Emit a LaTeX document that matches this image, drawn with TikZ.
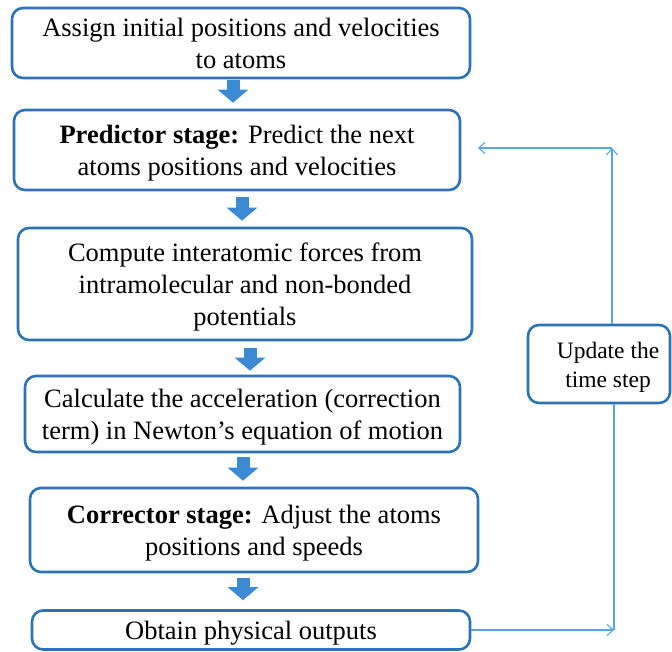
\documentclass[tikz,border=0pt]{standalone}
\usepackage{fontspec}
\setmainfont{Liberation Serif}
\usetikzlibrary{arrows.meta,calc}
\definecolor{boxblue}{RGB}{46,114,182}
\definecolor{arrblue}{RGB}{60,138,212}
\definecolor{lineblue}{RGB}{88,165,230}
\newcommand{\lowtext}[2][0pt]{\raisebox{-3pt}[\height][\depth]{\hspace*{#1}\begin{tabular}{@{}c@{}}#2\end{tabular}\hspace*{-#1}}}
\tikzset{
  stepbox/.style={draw=boxblue, line width=2.6pt, rounded corners=11pt, fill=white,
    align=center, inner sep=0pt, font=\fontsize{26.5}{32}\selectfont},
  blk/.style={draw=arrblue, line width=13pt, -{Triangle[width=30pt,length=13pt]}},
  fb/.style={draw=lineblue, line width=1.3pt},
  fbarrow/.style={fb, -{Straight Barb[length=6pt,width=11pt,line width=1.1pt]}},
}
\begin{document}
\begin{tikzpicture}[x=1pt,y=-1pt]
\useasboundingbox (0,0) rectangle (672,652);
\node[stepbox, minimum width=458pt, minimum height=70pt] (b1) at (241,43)
  {\lowtext{Assign initial positions and velocities\\to atoms}};
\node[stepbox, minimum width=446pt, minimum height=80pt] (b2) at (237,150)
  {\lowtext{\textbf{Predictor stage:} Predict the next\\atoms positions and velocities}};
\node[stepbox, minimum width=454pt, minimum height=112pt] (b3) at (245,284)
  {\lowtext{Compute interatomic forces from\\intramolecular and non-bonded\\potentials}};
\node[stepbox, minimum width=435pt, minimum height=76pt] (b4) at (242.5,414)
  {\lowtext{Calculate the acceleration (correction\\term) in Newton’s equation of motion}};
\node[stepbox, minimum width=448pt, minimum height=84pt] (b5) at (254,530)
  {\lowtext{\textbf{Corrector stage:} Adjust the atoms\\positions and speeds}};
\node[stepbox, minimum width=438pt, minimum height=39pt] (b6) at (251,630)
  {\lowtext{Obtain physical outputs}};
\node[stepbox, minimum width=142pt, minimum height=78pt, font=\fontsize{23.5}{29}\selectfont] (upd) at (599,364)
  {\lowtext[9pt]{Update the\\time step}};
\draw[blk] ([xshift=-8pt,yshift=-1pt]b1.south) -- ([xshift=-4pt,yshift=6pt]b2.north);
\draw[blk] ([xshift=5pt,yshift=-6pt]b2.south) -- ([xshift=-3pt,yshift=6pt]b3.north);
\draw[blk] ([xshift=5pt,yshift=-7pt]b3.south) -- ([xshift=7.5pt,yshift=4pt]b4.north);
\draw[blk] ([xshift=0.5pt,yshift=-4pt]b4.south) -- ([xshift=-11pt,yshift=6pt]b5.north);
\draw[blk] ([xshift=-11pt,yshift=-5pt]b5.south) -- ([xshift=-8pt,yshift=9pt]b6.north);
\coordinate (c1) at (614,630);
\coordinate (c2) at (612,148);
\coordinate (c3) at (478,148);
\draw[fbarrow] (b6.east) -- (c1);
\draw[fb] (c1) -- (c1 |- upd.south);
\draw[fbarrow] (c2 |- upd.north) -- (c2);
\draw[fbarrow] (c2) -- (c3);
\end{tikzpicture}
\end{document}
